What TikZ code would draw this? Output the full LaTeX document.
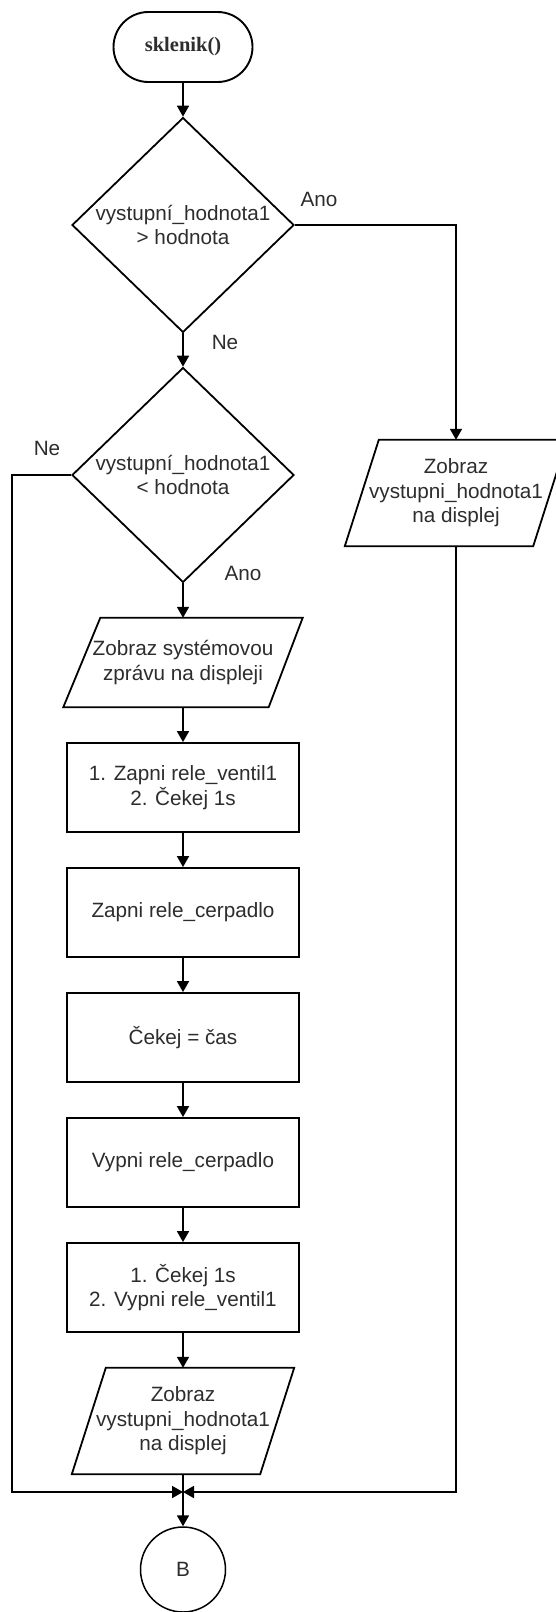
\documentclass[tikz,border=0pt]{standalone}
\usepackage{fontspec}
\setmainfont{Liberation Sans}
\newfontfamily\serifbold{Liberation Serif}
\usetikzlibrary{shapes.geometric,arrows.meta}
\definecolor{txt}{RGB}{45,45,45}
\begin{document}
\begin{tikzpicture}[x=1pt,y=-1pt,
  every node/.style={font=\fontsize{20.7}{24.5}\selectfont, text=txt},
  line/.style={draw=black, line width=1.8pt},
  arr/.style={line, -{Triangle[length=11pt,width=12pt]}},
  proc/.style={draw, line width=1.8pt, minimum width=232pt, minimum height=89pt, inner sep=0pt, align=center},
  dec/.style={diamond, draw, line width=1.8pt, minimum width=222pt, minimum height=214pt, inner sep=0pt, align=center},
  io/.style={minimum width=222pt, minimum height=106pt, inner sep=0pt, align=center},
  outline/.style={draw=black, line width=1.8pt, line join=miter},
  lbl/.style={inner sep=0pt}
]
\useasboundingbox (0,0) rectangle (556,1612);
\clip (0,0) rectangle (556,1612);
\fill[white] (0,0) rectangle (556,1612);

\node[draw, line width=1.9pt, rounded corners=35pt, minimum width=139pt, minimum height=70pt,
      font=\serifbold\bfseries\fontsize{20.5}{24}\selectfont] (start) at (183,47) {sklenik()};
\node[dec] (d1) at (183,225) {vystupní\_hodnota1\\> hodnota};
\node[dec] (d2) at (183,475) {vystupní\_hodnota1\\< hodnota};
\node[io, minimum width=239pt, minimum height=89pt] (p1) at (183,662.5) {Zobraz systémovou\\zprávu na displeji};
\node[proc] (b1) at (183,787.5) {1. Zapni rele\_ventil1\\2. Čekej 1s};
\node[proc] (b2) at (183,912.5) {Zapni rele\_cerpadlo};
\node[proc] (b3) at (183,1037.5) {Čekej = čas};
\node[proc] (b4) at (183,1162.5) {Vypni rele\_cerpadlo};
\node[proc] (b5) at (183,1287.5) {1. Čekej 1s\\2. Vypni rele\_ventil1};
\node[io] (p2) at (183,1421) {Zobraz\\vystupni\_hodnota1\\na displej};
\node[io] (pr) at (456,493) {Zobraz\\vystupni\_hodnota1\\na displej};
\node[circle, draw, line width=1.5pt, minimum size=85pt, inner sep=0pt] (B) at (183,1569.5) {B};

\draw[outline] ([xshift=37pt]p1.north west) -- (p1.north east) -- ([xshift=-34pt]p1.south east) -- (p1.south west) -- cycle;
\draw[outline] ([xshift=34pt]p2.north west) -- (p2.north east) -- ([xshift=-34pt]p2.south east) -- (p2.south west) -- cycle;
\draw[outline] ([xshift=34pt]pr.north west) -- (pr.north east) -- ([xshift=-34pt]pr.south east) -- (pr.south west) -- cycle;

\coordinate (m) at (183,1492);
\coordinate (lc) at (12,1492);
\coordinate (rc) at (456,1492);

\draw[arr] (start) -- (d1);
\draw[arr] (d1) -- (d2);
\draw[arr] (d2) -- (p1);
\draw[arr] (p1) -- (b1);
\draw[arr] (b1) -- (b2);
\draw[arr] (b2) -- (b3);
\draw[arr] (b3) -- (b4);
\draw[arr] (b4) -- (b5);
\draw[arr] (b5) -- (p2);
\draw[arr] (p2) -- (B);
\draw[arr] (d1.east) -| (pr.north);
\draw[arr] (d2.west) -| (lc) -- (m);
\draw[arr] (pr.south) -- (rc) -- (m);

\node[lbl] (ano1) at (319,199) {Ano};
\node[lbl] (ne1) at (225,342) {Ne};
\node[lbl] (ne2) at (47,448) {Ne};
\node[lbl] (ano2) at (243,573) {Ano};
\end{tikzpicture}
\end{document}
